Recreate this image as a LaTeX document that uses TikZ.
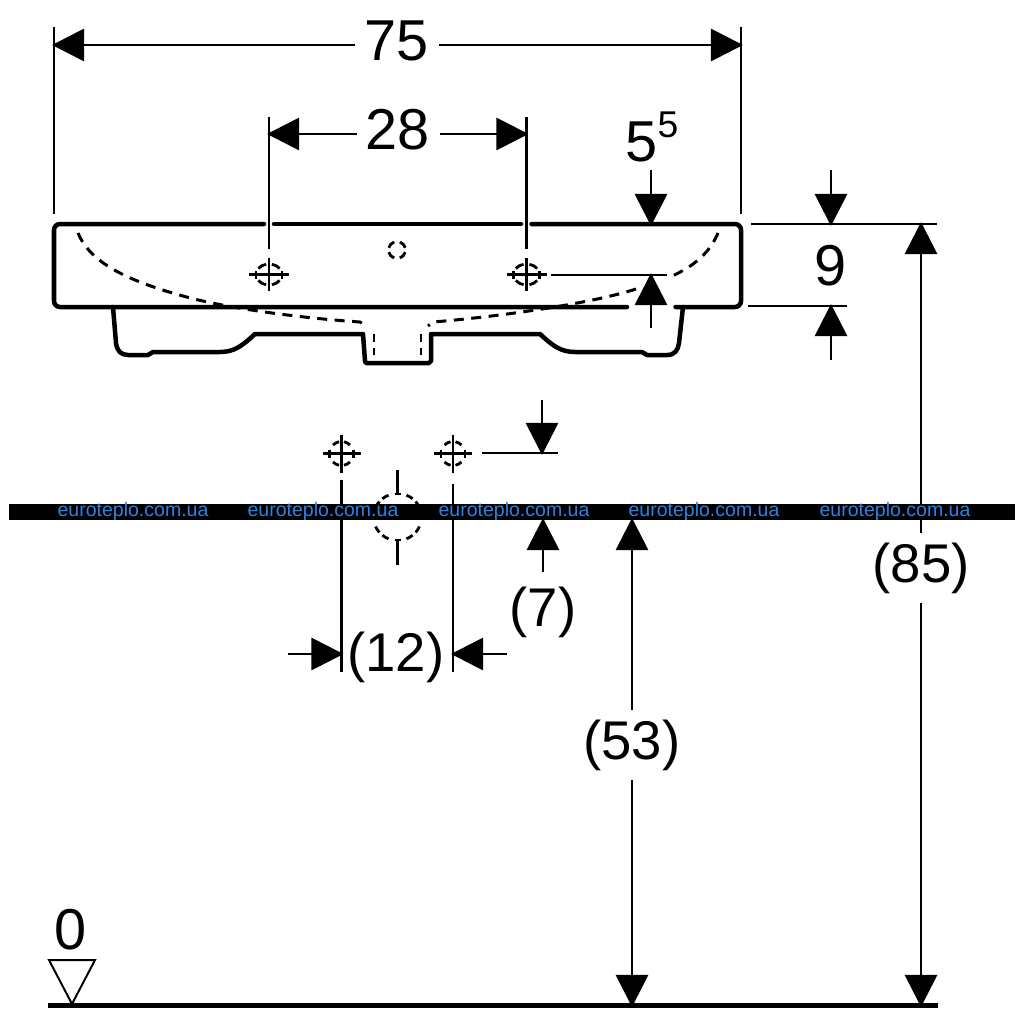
\documentclass[tikz,border=0pt]{standalone}
\usepackage{fontspec}
\setmainfont{Liberation Sans}
\usetikzlibrary{arrows.meta}
\tikzset{
  dimline/.style={line width=0.028cm,black},
  dimtip/.style={dimline,-{Triangle[length=0.32cm,width=0.32cm]},shorten >=-0.02cm},
  outline/.style={line width=0.045cm,line cap=round,line join=round},
  hidden/.style={line width=0.03cm,dash pattern=on 0.1cm off 0.075cm},
  thin hidden/.style={line width=0.028cm,dash pattern=on 0.075cm off 0.06cm},
  holearc/.style={line width=0.028cm},
  dimlabel/.style={inner xsep=0.1cm,inner ysep=0.1cm,font=\fontsize{16.4}{18}\selectfont},
  parenlabel/.style={inner xsep=0.08cm,inner ysep=0.09cm,font=\fontsize{15.5}{18}\selectfont},
  mark label/.style={font=\fontsize{5.55}{7}\selectfont,text=markblue,inner sep=0},
}
\definecolor{markblue}{RGB}{45,130,225}
% x y rx ry a b : one dash in each quadrant, from angle a to angle b
\newcommand{\quadarcs}[6]{%
  \pgfmathsetmacro{\aA}{#5}\pgfmathsetmacro{\aB}{#6}%
  \pgfmathsetmacro{\bA}{180-#6}\pgfmathsetmacro{\bB}{180-#5}%
  \pgfmathsetmacro{\cA}{180+#5}\pgfmathsetmacro{\cB}{180+#6}%
  \pgfmathsetmacro{\dA}{360-#6}\pgfmathsetmacro{\dB}{360-#5}%
  \draw[holearc] (#1,#2) ++(\aA:#3 and #4) arc[start angle=\aA,end angle=\aB,x radius=#3,y radius=#4];
  \draw[holearc] (#1,#2) ++(\bA:#3 and #4) arc[start angle=\bA,end angle=\bB,x radius=#3,y radius=#4];
  \draw[holearc] (#1,#2) ++(\cA:#3 and #4) arc[start angle=\cA,end angle=\cB,x radius=#3,y radius=#4];
  \draw[holearc] (#1,#2) ++(\dA:#3 and #4) arc[start angle=\dA,end angle=\dB,x radius=#3,y radius=#4];
}
% x y rx ry armx army : cross with ticks on the horizontal arm
\newcommand{\crossmark}[6]{%
  \draw[dimline] (#1-#5,#2) -- (#1+#5,#2) (#1,#2-#6) -- (#1,#2+#6);
  \draw[dimline] (#1-#3,#2-4) -- (#1-#3,#2+4) (#1+#3,#2-4) -- (#1+#3,#2+4);
}
\begin{document}
\begin{tikzpicture}[x=0.01cm,y=-0.01cm]
\useasboundingbox (0,0) rectangle (1024,1024);
% basin outline
\draw[outline] (264,224) -- (60,224) to[out=180,in=90] (54,230) -- (54,301) to[out=-90,in=180] (60,307) -- (627,307);
\draw[outline] (274,224) -- (521,224);
\draw[outline] (531.5,224) -- (735,224) to[out=0,in=90] (741,230) -- (741,301) to[out=-90,in=0] (735,307) -- (675.5,307);
\draw[outline] (113,307) -- (116,343) .. controls (117,351) and (121,355) .. (128,355) -- (148,355) -- (153,352) -- (220,352) .. controls (235,352) and (243,345) .. (255,334) -- (363,334) -- (365,361) -- (366,363) -- (429,363) -- (431,361) -- (431,334) -- (540,334) .. controls (552,345) and (560,352) .. (575,352) -- (642,352) -- (647,355) -- (667,355) .. controls (675,355) and (678,350) .. (679,343) -- (683,307);
% hidden basin bowl
\draw[hidden] (78,233) .. controls (90,262) and (125,280) .. (183,296) .. controls (225,308) and (300,318) .. (360,322) -- (368,327);
\draw[hidden] (718,233) .. controls (710,252) and (695,266) .. (670,277);
\draw[hidden] (636,289) .. controls (590,304) and (495,317) .. (433,322) -- (428,326);
\draw[thin hidden] (374,334) -- (374,363) (421,334) -- (421,363);
% holes
\quadarcs{269}{274.5}{13}{10.5}{35}{77}
\crossmark{269}{274.5}{13}{10.5}{20}{16.5}
\quadarcs{526.5}{274.5}{13}{10.5}{35}{77}
\crossmark{526.5}{274.5}{13}{10.5}{20}{16.5}
\quadarcs{397}{250}{8.5}{8.5}{15}{70}
\quadarcs{341.5}{453.5}{12}{12}{45}{78}
\crossmark{341.5}{453.5}{12}{12}{19}{19}
\quadarcs{453}{453.5}{12}{12}{45}{78}
\crossmark{453}{453.5}{12}{12}{19}{19}
% large hidden circle
\quadarcs{397.5}{517}{24}{23.5}{24}{41}
\quadarcs{397.5}{517}{24}{23.5}{51}{68}
\coordinate (ct) at (397.5,470); \coordinate (ctb) at (397.5,494);
\coordinate (cb) at (397.5,565); \coordinate (cbt) at (397.5,540);
\draw[dimline] (ct) -- (ctb) (cb) -- (cbt);
\draw[dimline] (394.5,494) -- (400.5,494) (394.5,540) -- (400.5,540);
% extension lines
\coordinate (e75l) at (54,27); \coordinate (e75lb) at (54,214);
\coordinate (e75r) at (741,27); \coordinate (e75rb) at (741,214);
\coordinate (e28l) at (269,117); \coordinate (e28lb) at (269,249);
\coordinate (e28r) at (526.5,117); \coordinate (e28rb) at (526.5,249);
\draw[dimline] (e75l) -- (e75lb) (e75r) -- (e75rb) (e28l) -- (e28lb) (e28r) -- (e28rb);
\coordinate (h1a) at (751,224); \coordinate (h1b) at (937,224);
\coordinate (h2a) at (748,306); \coordinate (h2b) at (847,306);
\coordinate (h3a) at (551,275); \coordinate (h3b) at (667,275);
\coordinate (h4a) at (482,453); \coordinate (h4b) at (558,453);
\draw[dimline] (h1a) -- (h1b) (h2a) -- (h2b) (h3a) -- (h3b) (h4a) -- (h4b);
\coordinate (v1a) at (341.5,480); \coordinate (v1b) at (341.5,672);
\coordinate (v2a) at (453,484); \coordinate (v2b) at (453,672);
\draw[dimline] (v1a) -- (v1b) (v2a) -- (v2b);
% dimensions
\node[dimlabel] (t75) at (397,41) {75};
\coordinate (a75l) at (54,45); \coordinate (a75r) at (741,45);
\draw[dimtip] (t75.center |- a75l) ++(-42,0) coordinate (g75l) -- (a75l);
\draw[dimtip] (t75.center |- a75r) ++(42,0) coordinate (g75r) -- (a75r);
\node[dimlabel] (t28) at (398,130) {28};
\coordinate (a28l) at (269,134); \coordinate (a28r) at (526.5,134);
\draw[dimtip] (t28.center |- a28l) ++(-41,0) coordinate (g28l) -- (a28l);
\draw[dimtip] (t28.center |- a28r) ++(42,0) coordinate (g28r) -- (a28r);
\node[dimlabel,inner sep=0] (t55) at (652,137) {5\raisebox{0.42em}{\fontsize{10.6}{12}\selectfont 5}};
\coordinate (s55) at (651,170); \coordinate (a55) at (651,224);
\draw[dimtip] (s55) -- (a55);
\coordinate (s55b) at (651,328); \coordinate (a55b) at (651,275);
\draw[dimtip] (s55b) -- (a55b);
\node[dimlabel] (t9) at (831,266) {9};
\coordinate (s9t) at (831,170); \coordinate (a9t) at (831,224);
\coordinate (s9b) at (831,360); \coordinate (a9b) at (831,306);
\draw[dimtip] (s9t) -- (a9t);
\draw[dimtip] (s9b) -- (a9b);
\node[parenlabel] (t85) at (921,568) {(85)};
\coordinate (a85t) at (921,224); \coordinate (a85b) at (921,1005);
\draw[dimtip] (t85) -- (a85t);
\draw[dimtip] (t85) -- (a85b);
\node[parenlabel] (t53) at (632,745) {(53)};
\coordinate (a53t) at (632,520); \coordinate (a53b) at (632,1005);
\draw[dimtip] (t53) -- (a53t);
\draw[dimtip] (t53) -- (a53b);
\node[parenlabel] (t7) at (543,612) {(7)};
\coordinate (s7t) at (542,400); \coordinate (a7t) at (542,453);
\coordinate (s7b) at (543,572); \coordinate (a7b) at (543,520);
\draw[dimtip] (s7t) -- (a7t);
\draw[dimtip] (s7b) -- (a7b);
\node[parenlabel] (t12) at (396,657) {(12)};
\coordinate (s12l) at (288,654); \coordinate (a12l) at (341.5,654);
\coordinate (s12r) at (507,654); \coordinate (a12r) at (453,654);
\draw[dimtip] (s12l) -- (a12l);
\draw[dimtip] (s12r) -- (a12r);
% level zero
\node[dimlabel] (t0) at (71,930) {0};
\draw[line width=0.02cm] (49,960) -- (95,960) -- (72,1004) -- cycle;
\draw[line width=0.05cm] (48,1005) -- (938,1005);
% watermark band
\fill[black] (9,504) rectangle (1015,520);
\foreach \n/\x in {a/133,b/323,c/514,d/704,e/895}
  \node[mark label] (w\n) at (\x,511) {euroteplo.com.ua};
\end{tikzpicture}
\end{document}
